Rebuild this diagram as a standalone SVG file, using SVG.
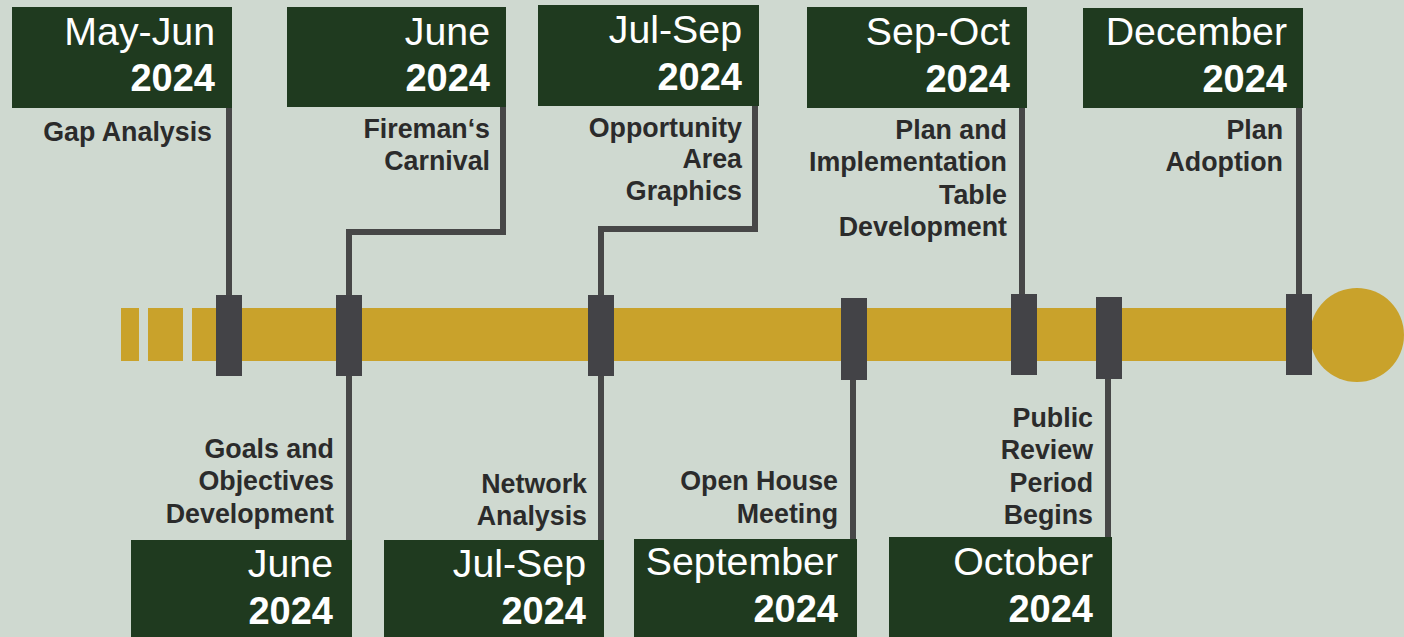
<svg xmlns="http://www.w3.org/2000/svg" width="1404" height="637" viewBox="0 0 1404 637">
<style>
.box{fill:#1f3a1f}
.mo{font-family:"Liberation Sans",Arial,sans-serif;font-size:39.3px;fill:#ffffff;text-anchor:end}
.yr{font-family:"Liberation Sans",Arial,sans-serif;font-size:38px;font-weight:bold;fill:#ffffff;text-anchor:end}
.lb{font-family:"Liberation Sans",Arial,sans-serif;font-size:26.8px;font-weight:bold;fill:#2b2b2b;text-anchor:end}
.ln{fill:none;stroke:#474747;stroke-width:6}
.mk{fill:#434347}
.bar{fill:#c9a22b}
</style>
<rect x="0" y="0" width="1404" height="637" fill="#cfd9d0"/>
<g id="timeline">
<rect class="bar" x="121" y="308" width="18" height="53"/>
<rect class="bar" x="148" y="308" width="35" height="53"/>
<rect class="bar" x="192" y="308" width="1120" height="53"/>
<circle class="bar" cx="1357" cy="335" r="47"/>
</g>
<g id="connectors">
<path class="ln" d="M229 108 V300"/>
<path class="ln" d="M503 107 V232 H349 V300"/>
<path class="ln" d="M755 106 V229 H601 V300"/>
<path class="ln" d="M1022 108 V300"/>
<path class="ln" d="M1299 108 V300"/>
<path class="ln" d="M349 370 V540"/>
<path class="ln" d="M601 370 V540"/>
<path class="ln" d="M853 375 V539"/>
<path class="ln" d="M1108 375 V537"/>
</g>
<g id="markers">
<rect class="mk" x="216" y="295" width="26" height="81"/>
<rect class="mk" x="336" y="295" width="26" height="81"/>
<rect class="mk" x="588" y="295" width="26" height="81"/>
<rect class="mk" x="841" y="298" width="26" height="82"/>
<rect class="mk" x="1011" y="294" width="26" height="81"/>
<rect class="mk" x="1096" y="297" width="26" height="82"/>
<rect class="mk" x="1286" y="294" width="26" height="81"/>
</g>
<g id="n1">
<rect class="box" x="12" y="7" width="220" height="101"/>
<text class="mo" x="215" y="45">May-Jun</text>
<text class="yr" x="215" y="91">2024</text>
<text class="lb" x="212" y="141">Gap Analysis</text>
</g>
<g id="n2">
<rect class="box" x="287" y="7" width="219" height="100"/>
<text class="mo" x="490" y="45">June</text>
<text class="yr" x="490" y="91">2024</text>
<text class="lb" x="490" y="138">Fireman‘s</text>
<text class="lb" x="490" y="170">Carnival</text>
</g>
<g id="n3">
<rect class="box" x="538" y="5" width="221" height="101"/>
<text class="mo" x="742" y="43">Jul-Sep</text>
<text class="yr" x="742" y="90">2024</text>
<text class="lb" x="742" y="137">Opportunity</text>
<text class="lb" x="742" y="168">Area</text>
<text class="lb" x="742" y="200">Graphics</text>
</g>
<g id="n4">
<rect class="box" x="807" y="7" width="220" height="101"/>
<text class="mo" x="1010" y="45">Sep-Oct</text>
<text class="yr" x="1010" y="92">2024</text>
<text class="lb" x="1007" y="139">Plan and</text>
<text class="lb" x="1007" y="171">Implementation</text>
<text class="lb" x="1007" y="204">Table</text>
<text class="lb" x="1007" y="236">Development</text>
</g>
<g id="n5">
<rect class="box" x="1083" y="8" width="220" height="100"/>
<text class="mo" x="1287" y="45">December</text>
<text class="yr" x="1287" y="92">2024</text>
<text class="lb" x="1283" y="139">Plan</text>
<text class="lb" x="1283" y="171">Adoption</text>
</g>
<g id="n6">
<rect class="box" x="131" y="540" width="221" height="97"/>
<text class="mo" x="333" y="577">June</text>
<text class="yr" x="333" y="624">2024</text>
<text class="lb" x="334" y="458">Goals and</text>
<text class="lb" x="334" y="490">Objectives</text>
<text class="lb" x="334" y="523">Development</text>
</g>
<g id="n7">
<rect class="box" x="384" y="540" width="220" height="97"/>
<text class="mo" x="586" y="577">Jul-Sep</text>
<text class="yr" x="586" y="624">2024</text>
<text class="lb" x="587" y="493">Network</text>
<text class="lb" x="587" y="525">Analysis</text>
</g>
<g id="n8">
<rect class="box" x="634" y="539" width="223" height="98"/>
<text class="mo" x="838" y="575">September</text>
<text class="yr" x="838" y="622">2024</text>
<text class="lb" x="838" y="490">Open House</text>
<text class="lb" x="838" y="523">Meeting</text>
</g>
<g id="n9">
<rect class="box" x="889" y="537" width="223" height="100"/>
<text class="mo" x="1093" y="575">October</text>
<text class="yr" x="1093" y="622">2024</text>
<text class="lb" x="1093" y="427">Public</text>
<text class="lb" x="1093" y="459">Review</text>
<text class="lb" x="1093" y="492">Period</text>
<text class="lb" x="1093" y="524">Begins</text>
</g>
</svg>
